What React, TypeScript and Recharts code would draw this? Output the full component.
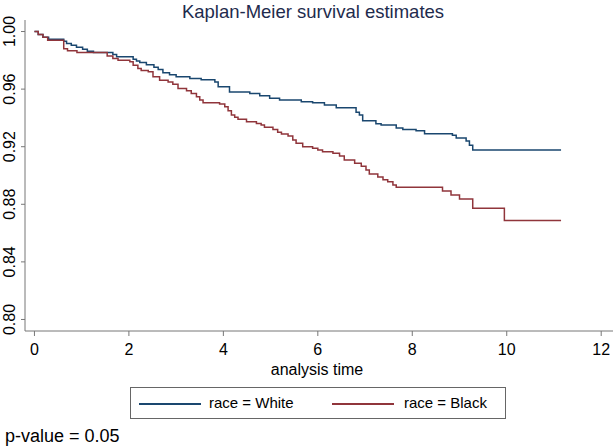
import React from 'react';
import { LineChart, Line, XAxis, YAxis } from 'recharts';

const whiteTimes = [0, 0.08, 0.18, 0.3, 0.62, 0.68, 0.78, 0.89, 1.02, 1.12, 1.25, 1.66, 1.74, 2.09, 2.16, 2.23, 2.37, 2.53, 2.62, 2.72, 2.86, 3.0, 3.29, 3.53, 3.82, 3.89, 4.13, 4.56, 4.77, 4.98, 5.19, 5.65, 5.89, 6.14, 6.39, 6.81, 6.88, 6.95, 7.23, 7.34, 7.66, 7.8, 8.08, 8.26, 8.85, 8.93, 9.14, 9.21, 9.28, 11.15];
const whiteSurv = [1.0, 0.998, 0.996, 0.9947, 0.9933, 0.9917, 0.9905, 0.989, 0.9877, 0.9863, 0.9854, 0.984, 0.9824, 0.9808, 0.9796, 0.9785, 0.977, 0.9752, 0.9737, 0.9713, 0.970, 0.9685, 0.9674, 0.9665, 0.965, 0.9616, 0.958, 0.957, 0.9554, 0.9536, 0.9524, 0.9512, 0.9505, 0.949, 0.947, 0.944, 0.942, 0.938, 0.936, 0.935, 0.933, 0.932, 0.931, 0.929, 0.928, 0.926, 0.924, 0.921, 0.9177, 0.9177];

const blackTimes = [0, 0.08, 0.18, 0.28, 0.62, 0.7, 0.9, 1.54, 1.66, 1.77, 2.02, 2.09, 2.19, 2.26, 2.41, 2.51, 2.65, 2.83, 2.93, 3.04, 3.22, 3.32, 3.43, 3.5, 3.57, 3.92, 4.03, 4.1, 4.17, 4.24, 4.31, 4.49, 4.7, 4.8, 4.87, 5.05, 5.15, 5.23, 5.37, 5.47, 5.54, 5.68, 5.89, 6.0, 6.1, 6.32, 6.46, 6.56, 6.78, 6.92, 7.02, 7.09, 7.27, 7.38, 7.48, 7.59, 7.66, 8.64, 8.82, 9.0, 9.28, 9.95, 11.15];
const blackSurv = [1.0, 0.998, 0.996, 0.994, 0.988, 0.9866, 0.9854, 0.983, 0.9813, 0.980, 0.979, 0.9766, 0.9743, 0.973, 0.972, 0.9685, 0.9662, 0.965, 0.9633, 0.9605, 0.9588, 0.957, 0.9547, 0.9524, 0.9505, 0.9496, 0.9477, 0.945, 0.942, 0.9404, 0.939, 0.9373, 0.9362, 0.935, 0.9335, 0.932, 0.930, 0.9288, 0.9274, 0.9246, 0.9224, 0.920, 0.9189, 0.9177, 0.9165, 0.9154, 0.9136, 0.9108, 0.9085, 0.9065, 0.9038, 0.901, 0.899, 0.897, 0.8957, 0.8934, 0.8918, 0.8893, 0.8865, 0.8837, 0.8773, 0.8687, 0.8687];

const xTicks = [0, 2, 4, 6, 8, 10, 12];
const yTicks = [0.8, 0.84, 0.88, 0.92, 0.96, 1.0];

const title = 'Kaplan-Meier survival estimates';
const xLabel = 'analysis time';
const seriesNames = ['race = White', 'race = Black'];
const pValueText = 'p-value = 0.05';

const whiteData = whiteTimes.map((t, i) => ({ t, s: whiteSurv[i] }));
const blackData = blackTimes.map((t, i) => ({ t, s: blackSurv[i] }));

const BLUE = '#1a476f';
const RED = '#90353b';
const FONT = '"Liberation Sans", Arial, Helvetica, sans-serif';

const YTick = (props: any) => {
  const { y, payload } = props;
  return (
    <text x={9.5} y={y} transform={`rotate(-90, 9.5, ${y})`} textAnchor="middle" dy="0.36em" fontSize={16} fill="#000" fontFamily={FONT}>
      {Number(payload.value).toFixed(2)}
    </text>
  );
};

const XTick = (props: any) => {
  const { x, payload } = props;
  return (
    <text x={x} y={355} textAnchor="middle" fontSize={16} fill="#000" fontFamily={FONT}>
      {payload.value}
    </text>
  );
};

export default function App() {
  return (
    <div style={{ position: 'absolute', left: 0, top: 0, width: 614, height: 446, background: '#fff', fontFamily: FONT }}>
      <LineChart width={614} height={446} margin={{ top: 20, right: 1, bottom: 0, left: 0 }}>
        <XAxis
          type="number"
          dataKey="t"
          domain={[-0.2, 12.25]}
          ticks={xTicks}
          height={115}
          tickSize={5}
          stroke="#777"
          tick={<XTick />}
          allowDataOverflow
        />
        <YAxis
          type="number"
          domain={[0.792, 1.008]}
          ticks={yTicks}
          width={25}
          tickSize={4}
          stroke="#777"
          tick={<YTick />}
          allowDataOverflow
        />
        <Line data={whiteData} dataKey="s" type="stepAfter" stroke={BLUE} strokeWidth={1.5} dot={false} isAnimationActive={false} />
        <Line data={blackData} dataKey="s" type="stepAfter" stroke={RED} strokeWidth={1.5} dot={false} isAnimationActive={false} />
      </LineChart>
      <div style={{ position: 'absolute', left: 0, width: 626, top: 1, textAlign: 'center', fontSize: 18.5, color: '#1e2b4d', lineHeight: '22px' }}>{title}</div>
      <div style={{ position: 'absolute', left: 0, width: 634, top: 360, textAlign: 'center', fontSize: 16, color: '#000', lineHeight: '20px' }}>{xLabel}</div>
      <div style={{ position: 'absolute', left: 130, top: 387, width: 374, height: 30, border: '1px solid #666', boxSizing: 'content-box' }}>
        <div style={{ position: 'absolute', left: 8, top: 15, width: 62, height: 1.5, background: BLUE }} />
        <div style={{ position: 'absolute', left: 78, top: 5, fontSize: 15, lineHeight: '20px', color: '#000', whiteSpace: 'nowrap' }}>{seriesNames[0]}</div>
        <div style={{ position: 'absolute', left: 201, top: 15, width: 62, height: 1.5, background: RED }} />
        <div style={{ position: 'absolute', left: 273, top: 5, fontSize: 15, lineHeight: '20px', color: '#000', whiteSpace: 'nowrap' }}>{seriesNames[1]}</div>
      </div>
      <div style={{ position: 'absolute', left: 5, top: 425, fontSize: 18, lineHeight: '22px', color: '#000', whiteSpace: 'nowrap' }}>{pValueText}</div>
    </div>
  );
}
